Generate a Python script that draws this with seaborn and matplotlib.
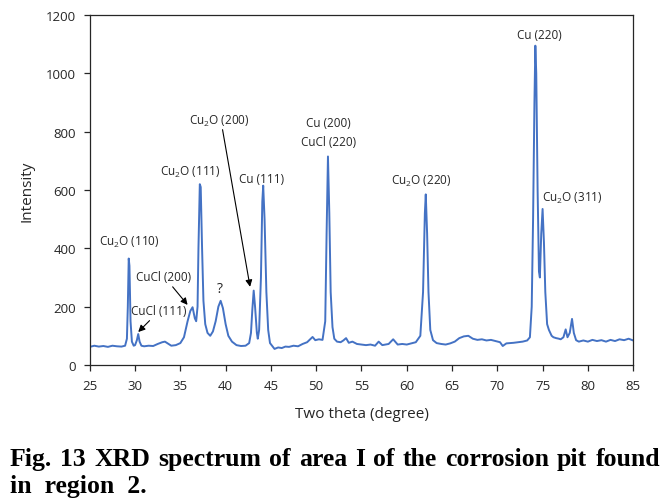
import numpy as np
import pandas as pd
import seaborn as sns
import matplotlib.pyplot as plt

# XRD trace (two theta in degree, intensity in counts)
two_theta = [
    25.0, 25.5, 26.0, 26.5, 27.0, 27.5, 28.0, 28.5, 28.9, 29.1, 29.2, 29.3, 29.38, 29.5, 29.65, 29.85,
    30.0, 30.2, 30.35, 30.5, 30.7, 31.0, 31.5, 32.0, 32.5, 33.0, 33.3, 33.7, 34.0, 34.5, 35.0, 35.4,
    35.8, 36.1, 36.35, 36.6, 36.75, 36.9, 37.0, 37.15, 37.25, 37.4, 37.55, 37.75, 38.0, 38.3, 38.6,
    38.9, 39.2, 39.45, 39.7, 40.0, 40.3, 40.7, 41.2, 41.7, 42.2, 42.6, 42.8, 42.95, 43.1, 43.25, 43.45,
    43.55, 43.7, 43.9, 44.05, 44.15, 44.3, 44.5, 44.7, 44.9, 45.4, 45.8, 46.2, 46.6, 47.0, 47.5, 48.0,
    48.5, 49.0, 49.4, 49.6, 49.9, 50.3, 50.7, 51.0, 51.15, 51.3, 51.45, 51.6, 51.8, 52.0, 52.3, 52.7,
    53.0, 53.3, 53.6, 54.0, 54.5, 55.0, 55.5, 56.0, 56.5, 56.9, 57.3, 58.0, 58.5, 59.0, 59.5, 60.0,
    60.5, 61.0, 61.5, 61.8, 62.0, 62.1, 62.25, 62.4, 62.6, 62.9, 63.3, 63.8, 64.3, 64.8, 65.3, 65.8,
    66.3, 66.8, 67.3, 67.8, 68.3, 68.8, 69.3, 69.8, 70.3, 70.6, 71.0, 71.8, 72.3, 72.8, 73.3, 73.6,
    73.8, 73.95, 74.1, 74.2, 74.3, 74.45, 74.6, 74.7, 74.85, 75.0, 75.15, 75.3, 75.5, 75.7, 75.85, 76.0,
    76.2, 76.5, 76.8, 77.0, 77.3, 77.55, 77.75, 78.0, 78.25, 78.45, 78.7, 79.0, 79.5, 80.0, 80.5, 81.0,
    81.5, 82.0, 82.5, 83.0, 83.5, 84.0, 84.5, 85.0,
]
intensity = [
    62, 66, 63, 65, 62, 66, 64, 63, 66, 90, 200, 365, 340, 150, 80, 66,
    68, 85, 106, 80, 66, 64, 66, 65, 72, 78, 80, 72, 66, 68, 75, 95,
    150, 185, 198, 160, 150, 200, 400, 620, 610, 400, 220, 140, 110, 100, 115,
    150, 200, 220, 195, 140, 100, 80, 68, 65, 66, 75, 110, 190, 255, 200, 110,
    90, 120, 300, 560, 615, 500, 250, 120, 75, 55, 60, 58, 63, 62, 66, 64,
    72, 78, 90, 96, 85, 88, 86, 150, 450, 715, 520, 250, 130, 90, 80, 78,
    84, 92, 76, 80, 72, 70, 68, 70, 66, 80, 68, 72, 88, 70, 72, 70,
    74, 78, 100, 250, 520, 585, 450, 250, 120, 85, 75, 72, 70, 74, 80, 92,
    98, 100, 90, 86, 88, 84, 86, 82, 78, 65, 74, 76, 78, 80, 84, 95,
    200, 500, 900, 1095, 1000, 600, 320, 300, 450, 535, 420, 250, 140, 120, 110, 100,
    95, 92, 90, 88, 95, 122, 95, 110, 158, 110, 85, 80, 84, 80, 86, 82,
    85, 80, 86, 82, 88, 85, 90, 84,
]

df = pd.DataFrame({"two_theta": two_theta, "intensity": intensity})

sns.set_style("ticks")
plt.rcParams["font.family"] = ["Open Sans", "DejaVu Sans"]
plt.rcParams["mathtext.fontset"] = "custom"
plt.rcParams["mathtext.rm"] = "Open Sans"
plt.rcParams["mathtext.it"] = "Open Sans"

dark = "#262626"
fig = plt.figure(figsize=(6.7, 5.02), dpi=100)
ax = fig.add_axes([0.134, 0.271, 0.811, 0.697])

sns.lineplot(data=df, x="two_theta", y="intensity", ax=ax, color="#4472C4", lw=1.4)

ax.set_xlim(25, 85)
ax.set_ylim(0, 1200)
ax.set_xticks(range(25, 86, 5))
ax.set_yticks(range(0, 1201, 200))
for s in ax.spines.values():
    s.set_visible(True)
    s.set_linewidth(0.9)
    s.set_color(dark)
ax.tick_params(direction="out", length=4, width=0.9, colors=dark, labelsize=9.5, pad=6)
ax.set_xlabel("Two theta (degree)", fontsize=11, color=dark, labelpad=10)
ax.set_ylabel("Intensity", fontsize=11, color=dark, labelpad=8)

# peak labels
lab = dict(fontsize=8.5, color=dark, ha="center", va="center")
ax.text(29.4, 422, r"Cu$_\mathregular{2}$O (110)", **lab)
ax.text(33.2, 305, "CuCl (200)", **lab)
ax.text(32.6, 186, "CuCl (111)", **lab)
ax.text(39.4, 262, "?", fontsize=10, color=dark, ha="center", va="center")
ax.text(36.05, 662, r"Cu$_\mathregular{2}$O (111)", **lab)
ax.text(39.25, 838, r"Cu$_\mathregular{2}$O (200)", **lab)
ax.text(43.97, 641, "Cu (111)", **lab)
ax.text(51.4, 832, "Cu (200)", **lab)
ax.text(51.4, 767, "CuCl (220)", **lab)
ax.text(61.65, 634, r"Cu$_\mathregular{2}$O (220)", **lab)
ax.text(74.65, 1135, "Cu (220)", **lab)
ax.text(78.3, 573, r"Cu$_\mathregular{2}$O (311)", **lab)

arrow = dict(arrowstyle="-|>", color="black", lw=0.8, mutation_scale=10, shrinkA=0, shrinkB=0)
ax.annotate("", xy=(35.8, 206), xytext=(34.15, 268), arrowprops=arrow)
ax.annotate("", xy=(30.35, 113), xytext=(31.6, 152), arrowprops=arrow)
ax.annotate("", xy=(42.7, 268), xytext=(39.66, 807), arrowprops=arrow)

# justified caption
W, H = 670, 502
cap_font = dict(family=["Liberation Serif"], fontweight="bold", fontsize=18.5, color="black", va="baseline")
words = "Fig. 13 XRD spectrum of area I of the corrosion pit found".split()
texts = [fig.text(0, 1 - 466 / H, w, **cap_font) for w in words]
fig.canvas.draw()
r = fig.canvas.get_renderer()
widths = [t.get_window_extent(r).width for t in texts]
left_px, right_px = 10, 660
gap = (right_px - left_px - sum(widths)) / (len(words) - 1)
x = left_px
for t, w in zip(texts, widths):
    t.set_x(x / W)
    x += w + gap
fig.text(left_px / W, 1 - 493 / H, "in  region  2.", **cap_font)

fig.savefig("out.png", dpi=100)
